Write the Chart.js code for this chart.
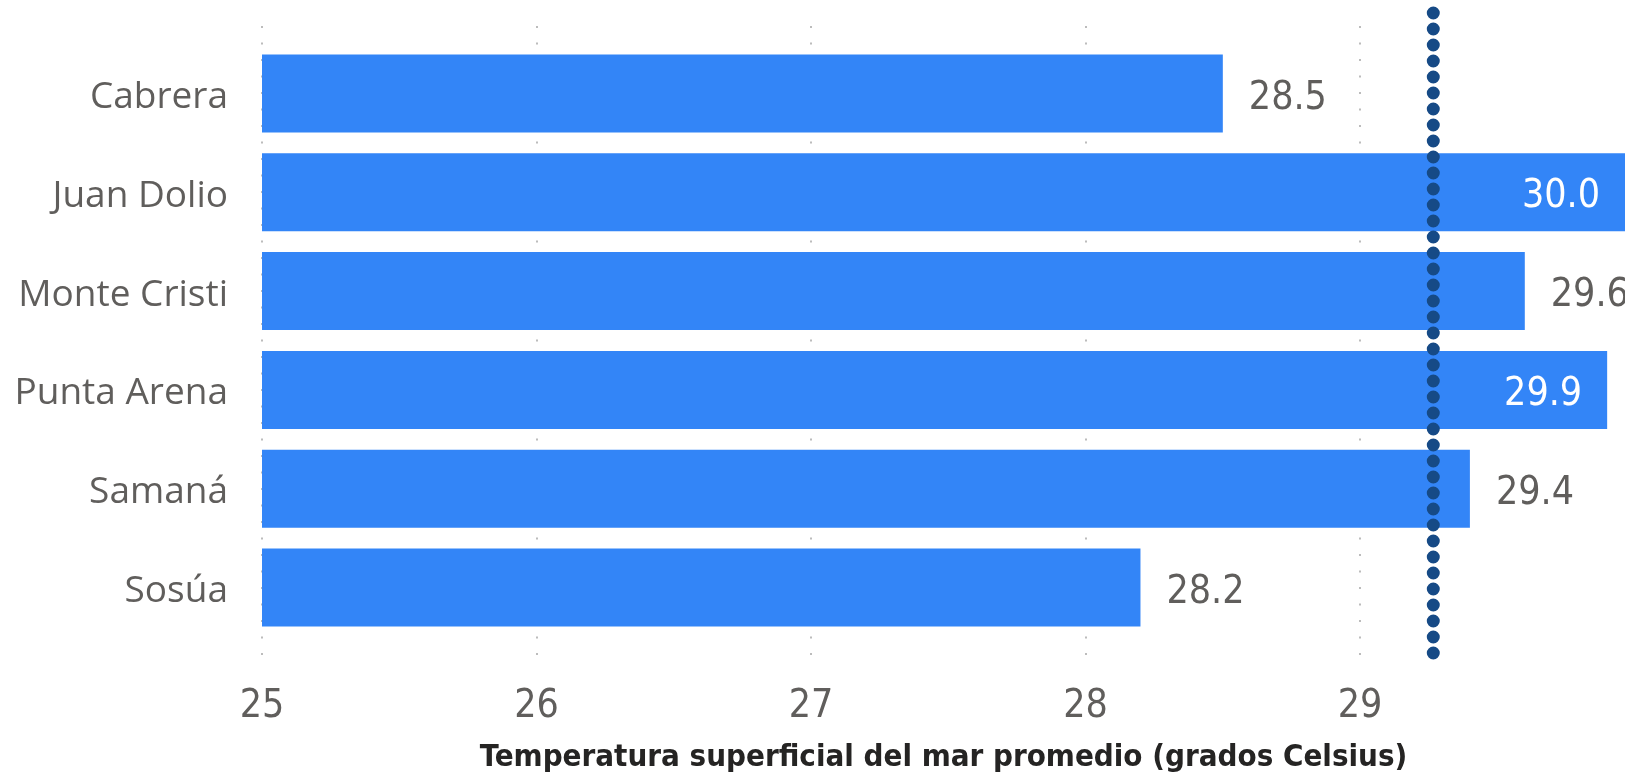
<!DOCTYPE html>
<html><head><meta charset="utf-8">
<script src="https://cdn.jsdelivr.net/npm/chart.js@4/dist/chart.umd.min.js"></script>
<style>html,body{margin:0;padding:0;background:#fff;overflow:hidden}#wrap{width:1625px;height:773px}</style>
</head><body><div id="wrap"><canvas id="c" width="1625" height="773"></canvas></div>
<script>
const categories = ['Cabrera', 'Juan Dolio', 'Monte Cristi', 'Punta Arena', 'Samaná', 'Sosúa'];
const temperatures = [28.5, 30.0, 29.6, 29.9, 29.4, 28.2];
const xTickValues = [25, 26, 27, 28, 29];
const axisTitle = 'Temperatura superficial del mar promedio (grados Celsius)';
const average = temperatures.reduce((a, b) => a + b, 0) / temperatures.length;

const NUM_FONT = "'Liberation Sans Narrow', 'DejaVu Sans Condensed', sans-serif";
const CAT_FONT = "'Open Sans', 'Noto Sans', sans-serif";
const TEXT_GRAY = '#605E5C';
const BAR_BLUE = '#3385F7';
const AVG_NAVY = '#164A86';

const dotGrid = {
  id: 'dotGrid',
  beforeDatasetsDraw(chart) {
    const x = chart.scales.x, ctx = chart.ctx, a = chart.chartArea;
    ctx.save();
    ctx.strokeStyle = '#bcbcbc';
    ctx.lineWidth = 2;
    ctx.setLineDash([2, 14.5]);
    x.ticks.forEach(t => {
      const px = Math.round(x.getPixelForValue(t.value));
      ctx.beginPath();
      ctx.moveTo(px, a.top - 18);
      ctx.lineTo(px, a.bottom + 31);
      ctx.stroke();
    });
    ctx.restore();
  }
};

const avgLine = {
  id: 'avgLine',
  afterDatasetsDraw(chart) {
    const x = chart.scales.x, ctx = chart.ctx, a = chart.chartArea;
    const px = x.getPixelForValue(average);
    ctx.save();
    ctx.strokeStyle = AVG_NAVY;
    ctx.lineWidth = 13;
    ctx.lineCap = 'round';
    ctx.setLineDash([0, 16]);
    ctx.beginPath();
    ctx.moveTo(px, a.top - 31);
    ctx.lineTo(px, a.bottom + 20);
    ctx.stroke();
    ctx.restore();
  }
};

const valueLabels = {
  id: 'valueLabels',
  afterDraw(chart) {
    const ctx = chart.ctx, a = chart.chartArea;
    const meta = chart.getDatasetMeta(0);
    ctx.save();
    ctx.font = '39px ' + NUM_FONT;
    ctx.textBaseline = 'middle';
    meta.data.forEach((bar, i) => {
      const txt = temperatures[i].toFixed(1);
      const inside = a.right - bar.x < 60;
      if (inside) {
        ctx.fillStyle = '#ffffff';
        ctx.textAlign = 'right';
        ctx.fillText(txt, Math.min(bar.x, a.right) - 25, bar.y + 5);
      } else {
        ctx.fillStyle = TEXT_GRAY;
        ctx.textAlign = 'left';
        ctx.fillText(txt, bar.x + 26, bar.y + 5);
      }
    });
    ctx.restore();
  }
};

new Chart(document.getElementById('c'), {
  type: 'bar',
  data: {
    labels: categories,
    datasets: [{
      data: temperatures,
      backgroundColor: BAR_BLUE,
      borderWidth: 0,
      barPercentage: 0.79,
      categoryPercentage: 1.0
    }]
  },
  options: {
    indexAxis: 'y',
    responsive: false,
    animation: false,
    devicePixelRatio: 1,
    layout: { padding: { top: 44, right: 0, bottom: 0, left: 0 } },
    plugins: { legend: { display: false }, tooltip: { enabled: false } },
    scales: {
      x: {
        type: 'linear',
        min: 25,
        max: 29.965,
        afterBuildTicks: s => { s.ticks = xTickValues.map(v => ({ value: v })); },
        afterFit: s => { s.height = 136; s.paddingLeft = 0; s.paddingRight = 0; },
        grid: { display: false, drawTicks: false },
        border: { display: false },
        ticks: {
          color: TEXT_GRAY,
          font: { family: NUM_FONT, size: 39, lineHeight: 1.2 },
          padding: 46,
          maxRotation: 0,
          autoSkip: false
        },
        title: {
          display: true,
          text: axisTitle,
          color: '#252423',
          font: { family: NUM_FONT, size: 31, weight: 'bold', lineHeight: 1 },
          padding: { top: 12, bottom: 0 }
        }
      },
      y: {
        type: 'category',
        afterFit: s => { s.width = 262; s.paddingTop = 0; s.paddingBottom = 0; },
        grid: { display: false, drawTicks: false },
        border: { display: false },
        ticks: {
          color: TEXT_GRAY,
          font: { family: CAT_FONT, size: 37 },
          padding: 34,
          labelOffset: 4,
          autoSkip: false
        }
      }
    }
  },
  plugins: [dotGrid, avgLine, valueLabels]
});
</script>
</body></html>
